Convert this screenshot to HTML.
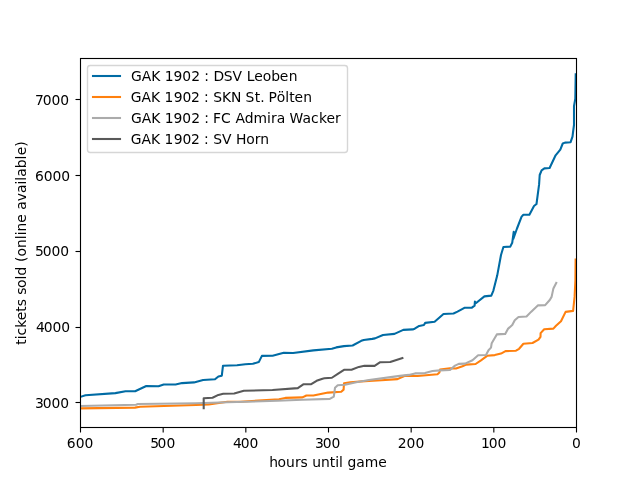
<!DOCTYPE html>
<html lang="de">
<head>
<meta charset="utf-8">
<title>tickets sold (online available)</title>
<style>
html,body{margin:0;padding:0;background:#fff;}
body{width:640px;height:480px;overflow:hidden;}
svg{display:block;}
text{text-rendering:auto;font-family:"DejaVu Sans","Liberation Sans",sans-serif;font-size:13.889px;fill:#000;}
</style>
</head>
<body>
<svg width="640" height="480" viewBox="0 0 640 480">
<rect x="0" y="0" width="640" height="480" fill="#ffffff"/>

<defs><clipPath id="ax"><rect x="80" y="57.6" width="496" height="369.6"/></clipPath></defs>
<g clip-path="url(#ax)">
<polyline points="80.00,397.00 85.50,395.20 115.40,393.10 125.50,391.30 135.10,391.30 146.30,386.00 158.50,386.20 163.70,384.50 175.60,384.50 182.00,383.10 194.00,382.40 203.10,380.00 215.00,379.30 218.40,376.50 221.80,375.70 223.00,365.70 237.00,365.25 245.30,364.30 252.80,363.80 258.80,362.10 261.90,355.90 272.60,355.70 283.75,352.85 293.10,353.05 313.40,350.40 331.90,348.80 336.25,347.40 344.00,346.10 352.60,345.50 361.25,340.80 363.75,340.00 372.20,338.90 375.00,338.40 383.00,335.00 394.50,333.90 403.30,329.90 412.70,329.40 414.70,328.70 419.20,325.90 423.90,325.00 425.20,322.90 434.60,321.70 443.50,314.00 453.50,313.50 457.50,311.60 464.40,307.80 471.90,307.60 474.60,305.60 474.90,301.60 475.80,303.20 484.40,296.40 491.30,295.60 493.40,290.60 497.20,275.60 501.00,255.00 503.40,247.00 510.30,246.60 512.20,242.80 513.70,231.80 513.30,239.00 516.90,228.75 521.60,216.60 523.40,214.70 529.40,214.75 534.00,206.00 536.50,204.00 539.10,184.40 539.70,175.00 541.60,170.30 544.40,168.40 549.60,168.00 555.60,155.30 560.30,149.70 562.75,143.50 565.00,142.60 570.60,142.20 572.50,136.60 573.00,132.50 574.00,125.00 574.00,106.25 575.30,98.75 575.70,74.40" fill="none" stroke="#006ba4" stroke-width="2.083" stroke-linejoin="round" stroke-linecap="square"/>
<polyline points="80.00,408.40 135.00,407.60 140.00,406.70 196.00,405.00 208.75,404.40 227.50,401.70 240.00,401.70 279.00,399.30 285.30,397.90 302.50,397.40 306.40,395.50 313.40,395.50 328.10,392.60 341.25,391.70 343.60,389.60 344.00,383.20 350.30,382.20 369.00,380.90 381.60,380.20 397.50,379.10 405.00,375.70 417.50,376.00 437.50,374.20 439.40,372.50 440.00,369.60 450.00,368.30 456.00,368.50 462.50,366.20 466.25,364.60 475.60,364.00 481.00,360.30 487.10,355.80 494.75,355.10 501.00,353.60 505.50,351.10 516.00,350.70 519.10,348.80 523.40,343.75 532.50,343.00 538.50,339.70 540.50,336.90 540.60,333.10 544.20,329.30 553.40,328.60 556.00,325.80 561.00,321.25 565.60,311.90 573.10,310.90 574.60,296.90 575.40,280.00 575.60,259.50" fill="none" stroke="#ff800e" stroke-width="2.083" stroke-linejoin="round" stroke-linecap="square"/>
<polyline points="80.00,406.00 136.00,404.80 138.00,404.00 196.00,403.20 227.50,402.30 277.50,400.80 302.50,399.70 329.80,398.90 333.80,396.60 335.00,387.80 337.70,385.30 345.00,384.80 356.25,382.30 369.00,380.00 392.50,376.90 400.00,375.90 408.75,374.90 415.00,373.40 425.00,373.10 432.50,371.00 440.00,370.40 450.00,370.00 455.00,365.60 458.75,363.90 465.00,363.60 472.50,360.20 478.10,355.30 486.00,355.00 488.50,350.20 491.00,347.60 491.70,343.20 496.80,334.40 505.20,333.90 507.90,328.90 512.25,325.00 514.75,320.20 518.50,317.00 526.50,316.55 531.00,311.90 537.80,305.40 545.20,305.10 549.75,300.00 551.60,296.90 553.40,288.40 556.25,283.00" fill="none" stroke="#ababab" stroke-width="2.083" stroke-linejoin="round" stroke-linecap="square"/>
<polyline points="203.70,408.10 203.70,398.25 212.50,397.70 218.40,394.90 223.20,393.80 234.20,393.50 243.80,390.80 272.50,390.00 297.80,388.10 303.30,384.30 311.25,384.20 316.60,380.80 322.50,378.70 324.40,378.30 331.90,377.75 337.80,373.90 344.00,369.80 351.50,369.80 358.90,366.90 364.40,365.80 374.60,365.90 380.20,362.20 390.20,362.00 402.40,358.00" fill="none" stroke="#595959" stroke-width="2.083" stroke-linejoin="round" stroke-linecap="square"/>
</g>
<g stroke="#000" stroke-width="1.111" shape-rendering="auto">
<line x1="80.50" y1="427.5" x2="80.50" y2="432.5"/>
<line x1="163.17" y1="427.5" x2="163.17" y2="432.5"/>
<line x1="245.83" y1="427.5" x2="245.83" y2="432.5"/>
<line x1="328.50" y1="427.5" x2="328.50" y2="432.5"/>
<line x1="411.17" y1="427.5" x2="411.17" y2="432.5"/>
<line x1="493.83" y1="427.5" x2="493.83" y2="432.5"/>
<line x1="576.50" y1="427.5" x2="576.50" y2="432.5"/>
<line x1="75.50" y1="402.50" x2="80.50" y2="402.50"/>
<line x1="75.50" y1="327.50" x2="80.50" y2="327.50"/>
<line x1="75.50" y1="251.50" x2="80.50" y2="251.50"/>
<line x1="75.50" y1="175.50" x2="80.50" y2="175.50"/>
<line x1="75.50" y1="99.50" x2="80.50" y2="99.50"/>
</g>
<rect x="80.5" y="58.5" width="496" height="369" fill="none" stroke="#000" stroke-width="1.111" stroke-linejoin="miter" shape-rendering="auto"/>
<rect x="87.5" y="65.5" width="260" height="87" rx="2.78" ry="2.78" fill="#ffffff" fill-opacity="0.8" stroke="#cccccc" stroke-opacity="0.8" stroke-width="1.389"/>
<line x1="93.0" y1="76.00" x2="120.0" y2="76.00" stroke="#006ba4" stroke-width="2.083" stroke-linecap="square"/>
<line x1="93.0" y1="97.00" x2="120.0" y2="97.00" stroke="#ff800e" stroke-width="2.083" stroke-linecap="square"/>
<line x1="93.0" y1="118.00" x2="120.0" y2="118.00" stroke="#ababab" stroke-width="2.083" stroke-linecap="square"/>
<line x1="93.0" y1="139.00" x2="120.0" y2="139.00" stroke="#595959" stroke-width="2.083" stroke-linecap="square"/>
<g style="will-change:opacity;filter:grayscale(1)">
<text x="66.81 75.64 84.47" y="448">600</text>
<text x="150.29 157.62 166.45" y="448">500</text>
<text x="232.96 240.79 249.62" y="448">400</text>
<text x="314.88 322.71 331.54" y="448">300</text>
<text x="397.79 406.62 415.45" y="448">200</text>
<text x="480.9 488.73 497.56" y="448">100</text>
<text x="572.12" y="448">0</text>
<text x="35.05 42.8 51.55 60.3" y="407.97">3000</text>
<text x="36.05 43.8 52.55 61.3" y="332.18">4000</text>
<text x="35.05 42.8 51.55 60.3" y="256.4">5000</text>
<text x="35.05 43.8 52.55 61.3" y="180.62">6000</text>
<text x="35.05 42.8 51.55 60.3" y="104.83">7000</text>
<text x="269.31 277.6 286.09 294.89 300.59 307.82 312.23 321.02 329.82 335.26 339.11 342.97 347.38 356.19 364.69 378.2" y="466.5">hours until game</text>
<text transform="translate(26.3,243.25) rotate(-90)" x="-101.5 -96.06 -92.2 -84.58 -77.04 -68.5 -63.06 -55.84 -51.43 -44.7 -36.21 -32.35 -23.05 -18.63 -13.22 -4.73 4.06 7.92 11.77 20.56 29.1 33.51 42.01 50.23 58.73 62.58 66.44 74.94 83.75 88.1 96.64" y="0">tickets sold (online available)</text>
<text x="130.89 141.64 151.13 160.23 164.64 173.47 182.3 191.13 199.95 204.36 209.04 213.45 223.63 232.44 242.43 246.84 254.32 262.86 271.35 279.66 288.69" y="81.14">GAK 1902 : DSV Leoben</text>
<text x="130.64 141.39 150.88 159.98 164.39 173.72 182.55 190.88 199.7 204.11 208.79 213.2 222.01 231.11 241.48 245.39 254.7 260.14 264.55 268.46 276.83 285.32 289.17 294.61 303.15" y="102.08">GAK 1902 : SKN St. Pölten</text>
<text x="130.89 141.64 151.13 160.23 164.64 173.47 182.3 191.13 199.95 204.36 209.04 212.95 220.93 231.12 235.53 244.77 253.58 267.09 270.95 276.65 285.16 289.57 302.41 310.91 319.04 326.58 335.11" y="123.03">GAK 1902 : FC Admira Wacker</text>
<text x="130.64 141.39 150.88 159.98 164.39 173.72 182.55 190.88 199.7 204.11 208.79 213.2 222.01 231.5 235.91 246.34 254.83 260.29" y="143.97">GAK 1902 : SV Horn</text>
</g>
</svg>
</body>
</html>
